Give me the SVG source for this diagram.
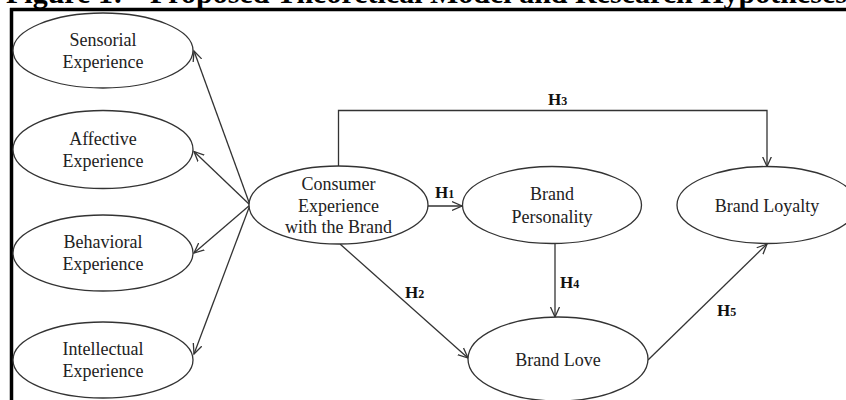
<svg xmlns="http://www.w3.org/2000/svg" width="846" height="400" viewBox="0 0 846 400">
<defs>
<style>
.node ellipse{fill:#fff;stroke:#333;stroke-width:1.3}
.lbl{font-family:"Liberation Serif","Times New Roman",serif;font-size:18px;fill:#222;text-anchor:middle}
.h{font-family:"Liberation Serif","Times New Roman",serif;font-size:17px;font-weight:bold;fill:#111}
.h tspan{font-size:12px}
.conn line,.conn polyline{stroke:#333;stroke-width:1.3;fill:none}
.title{font-family:"Liberation Serif","Times New Roman",serif;font-size:30px;font-weight:bold;fill:#000}
</style>
<marker id="ah" markerWidth="12" markerHeight="12" refX="10" refY="5" orient="auto" markerUnits="userSpaceOnUse" viewBox="0 0 12 10">
<path d="M0,0.5 L10,5 L0,9.5" fill="none" stroke="#333" stroke-width="1.3"/>
</marker>
</defs>
<rect width="846" height="400" fill="#fff"/>
<text class="title" x="6" y="2.5">Figure 1:<tspan x="150">Proposed Theoretical Model and Research Hypotheses</tspan></text>
<g id="frame">
<line x1="10" y1="9.5" x2="846" y2="9.5" stroke="#000" stroke-width="3.5"/>
<line x1="11.5" y1="8" x2="11.5" y2="400" stroke="#000" stroke-width="3.5"/>
</g>
<g class="conn" id="connectors">
<line x1="250" y1="205" x2="194" y2="51" marker-end="url(#ah)"/>
<line x1="250" y1="205" x2="194" y2="151.5" marker-end="url(#ah)"/>
<line x1="250" y1="205" x2="194" y2="253" marker-end="url(#ah)"/>
<line x1="250" y1="205" x2="194" y2="354" marker-end="url(#ah)"/>
<line x1="428" y1="206" x2="462" y2="206" marker-end="url(#ah)"/>
<polyline points="338.5,166 338.5,110.5 767,110.5 767,166.5" marker-end="url(#ah)"/>
<line x1="340" y1="244" x2="468" y2="358" marker-end="url(#ah)"/>
<line x1="555" y1="243.5" x2="555" y2="317" marker-end="url(#ah)"/>
<line x1="648" y1="360" x2="767" y2="244" marker-end="url(#ah)"/>
</g>
<g id="n-sensorial" class="node"><ellipse cx="103" cy="50.5" rx="90" ry="37.5"/><text class="lbl" x="103" y="45.5">Sensorial</text><text class="lbl" x="103" y="67.5">Experience</text></g>
<g id="n-affective" class="node"><ellipse cx="103" cy="149.5" rx="90" ry="39"/><text class="lbl" x="103" y="144.5">Affective</text><text class="lbl" x="103" y="166.5">Experience</text></g>
<g id="n-behavioral" class="node"><ellipse cx="103" cy="253" rx="90" ry="38"/><text class="lbl" x="103" y="248">Behavioral</text><text class="lbl" x="103" y="270">Experience</text></g>
<g id="n-intellectual" class="node"><ellipse cx="103" cy="360" rx="90" ry="38"/><text class="lbl" x="103" y="355">Intellectual</text><text class="lbl" x="103" y="377">Experience</text></g>
<g id="n-consumer" class="node"><ellipse cx="338.5" cy="205" rx="89.5" ry="39"/><text class="lbl" x="338.5" y="190">Consumer</text><text class="lbl" x="338.5" y="211.5">Experience</text><text class="lbl" x="338.5" y="233">with the Brand</text></g>
<g id="n-personality" class="node"><ellipse cx="552" cy="205" rx="89.5" ry="38.5"/><text class="lbl" x="552" y="200">Brand</text><text class="lbl" x="552" y="222.5">Personality</text></g>
<g id="n-loyalty" class="node"><ellipse cx="767" cy="205" rx="90" ry="38.5"/><text class="lbl" x="767" y="211.5">Brand Loyalty</text></g>
<g id="n-love" class="node"><ellipse cx="558" cy="359" rx="90" ry="42"/><text class="lbl" x="558" y="366">Brand Love</text></g>
<g id="labels">
<text class="h" x="435" y="198">H<tspan>1</tspan></text>
<text class="h" x="405" y="298">H<tspan>2</tspan></text>
<text class="h" x="548" y="105">H<tspan>3</tspan></text>
<text class="h" x="560" y="288">H<tspan>4</tspan></text>
<text class="h" x="717" y="316">H<tspan>5</tspan></text>
</g>
</svg>
